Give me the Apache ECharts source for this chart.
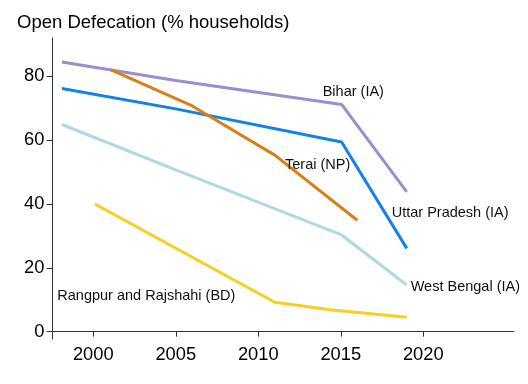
<!DOCTYPE html>
<html><head><meta charset="utf-8">
<script src="https://cdn.jsdelivr.net/npm/echarts@6/dist/echarts.min.js"></script>
<style>html,body{margin:0;padding:0;background:#fff}#c{width:528px;height:384px}</style>
</head><body><div id="c"></div>
<script>
const xTicks = [2000, 2005, 2010, 2015, 2020];
const yTicks = [0, 20, 40, 60, 80];
const bihar = [[1998.1, 84.5], [2005, 78.7], [2015.05, 71.2], [2019, 43.8]];
const terai = [[2001.05, 82.1], [2006, 70.7], [2011, 55.3], [2016, 34.9]];
const uttarPradesh = [[1998.1, 76.2], [2005, 69.8], [2015.05, 59.4], [2019, 26.1]];
const westBengal = [[1998.1, 64.9], [2005, 50.7], [2015.05, 30.3], [2019, 14.6]];
const rangpur = [[2000.1, 40.0], [2011, 9.2], [2014.5, 6.8], [2019, 4.5]];
const seriesNames = ['Bihar (IA)', 'Terai (NP)', 'Uttar Pradesh (IA)', 'West Bengal (IA)', 'Rangpur and Rajshahi (BD)'];
const seriesData = [bihar, terai, uttarPradesh, westBengal, rangpur];
const colors = ['#9b8dcf', '#d97f17', '#1281e8', '#aed8e2', '#f7cf1c'];
const labelPos = [[322.7, 91.7], [285, 165], [391.7, 213.3], [410.7, 287.3], [57.3, 296]];

const FONT = '"Liberation Sans", Arial, sans-serif';
const chart = echarts.init(document.getElementById('c'), null, {renderer: 'canvas'});
chart.setOption({
  animation: false,
  title: {
    text: 'Open Defecation (% households)', left: 17, top: 13.6, padding: 0,
    textStyle: {fontFamily: FONT, fontSize: 18.5, fontWeight: 'normal', color: '#000'}
  },
  grid: {left: 52.7, right: 14, top: 38, bottom: 45, containLabel: false},
  xAxis: {
    type: 'value', min: 1997.54, max: 2025.5,
    splitLine: {show: false},
    axisLine: {show: true, lineStyle: {color: '#333', width: 1}},
    axisTick: {show: true, length: 5, lineStyle: {color: '#333'}, customValues: xTicks},
    axisLabel: {customValues: xTicks, margin: 7, fontFamily: FONT, fontSize: 18.3, color: '#000', formatter: v => String(v)}
  },
  yAxis: {
    type: 'value', min: -2.3, max: 92,
    splitLine: {show: false},
    axisLine: {show: true, lineStyle: {color: '#333', width: 1}},
    axisTick: {show: true, length: 6, lineStyle: {color: '#333'}, customValues: yTicks},
    axisLabel: {customValues: yTicks, margin: 8.4, fontFamily: FONT, fontSize: 18.3, color: '#000'}
  },
  series: seriesData.map((d, i) => ({
    type: 'line', name: seriesNames[i], data: d, showSymbol: false, symbol: 'none',
    lineStyle: {color: colors[i], width: 3}, z: 2 + (i === 1 ? 1 : 0)
  })),
  graphic: seriesNames.map((n, i) => ({
    type: 'text', x: labelPos[i][0], y: labelPos[i][1], z: 10,
    style: {text: n, fill: '#111', font: '14.5px ' + FONT, align: 'left', verticalAlign: 'middle'}
  }))
});
</script></body></html>
